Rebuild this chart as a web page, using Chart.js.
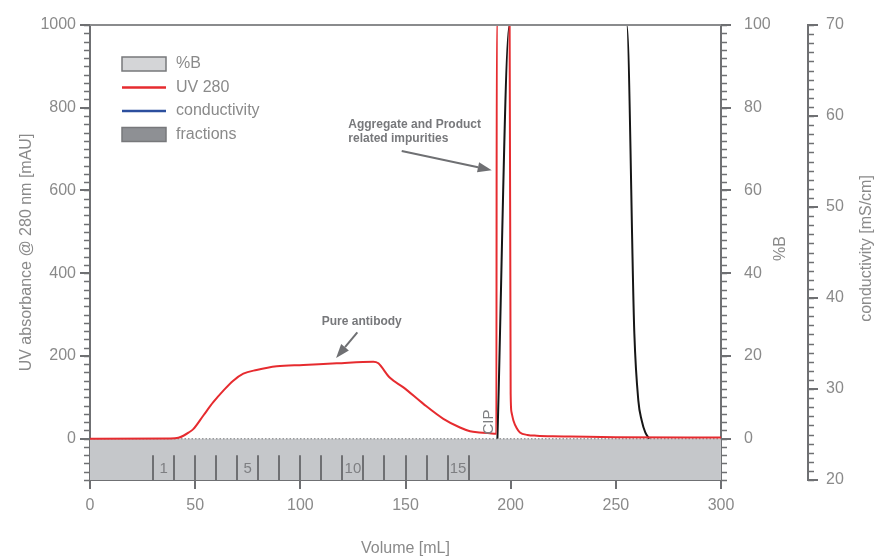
<!DOCTYPE html>
<html>
<head>
<meta charset="utf-8">
<script src="https://cdn.jsdelivr.net/npm/chart.js@4.4.1/dist/chart.umd.min.js"></script>
<style>
  html, body { margin: 0; padding: 0; background: #fff; }
  #wrap { width: 888px; height: 560px; }
</style>
</head>
<body>
<div id="wrap"><canvas id="myChart" width="888" height="560"></canvas></div>
<script>
// ---- data ----
var uvVolume = [0, 38, 42, 44.4, 47, 49.1, 53.9, 58.6, 63.4, 68.1, 72.9, 79.2, 88.8, 101.4, 117.3, 134.7, 136, 137.1,
  142.6, 149, 158.5, 168, 175.9, 180.7, 185, 190, 193.2, 193.4, 199.5, 200.0, 200.4, 201.3, 202.9, 204.4, 208, 212.4,
  220, 228.2, 250, 300];
var uvValue = [0, 0.5, 2, 7, 15, 23, 56, 88, 116, 140, 157, 166, 175, 178, 182, 186, 185, 182,
  147, 124, 84, 48, 27, 18, 15, 13, 12, 1000, 1000, 108, 64, 44, 25, 15, 9, 7,
  5.5, 5, 3.5, 2.5];

var pctVolume = [193.7, 199.4, 255.2, 258.8, 260.7, 262.3, 264, 265.9];
var pctValue = [0, 100, 100, 25.4, 9.2, 4.4, 1.5, 0];

var fractionEdges = [30, 40, 50, 60, 70, 80, 90, 100, 110, 120, 130, 140, 150, 160, 170, 180];
var fractionLabels = { 1: '1', 5: '5', 10: '10', 15: '15' };

var volTicks = [0, 50, 100, 150, 200, 250, 300];
var uvTicks = [0, 200, 400, 600, 800, 1000];
var pctTicks = [0, 20, 40, 60, 80, 100];
var condTicks = [20, 30, 40, 50, 60, 70];

var red = '#e62b2f';
var blue = '#2c4f9e';
var axisColor = '#6f7073';
var textColor = '#8a8a8a';

Chart.defaults.font.family = "'Liberation Sans', Arial, sans-serif";
Chart.defaults.font.size = 16;
Chart.defaults.color = textColor;

function pts(xs, ys) {
  return xs.map(function(x, i) { return { x: x, y: ys[i] }; });
}
function fixTicks(list) {
  return function(scale) { scale.ticks = list.map(function(v) { return { value: v }; }); };
}
function plain(v) { return String(v); }

// short ticks between the labelled ones
var minorTicks = {
  id: 'minorTicks',
  afterDraw: function(chart) {
    var ctx = chart.ctx;
    ctx.save();
    ctx.strokeStyle = axisColor;
    ctx.lineWidth = 1.5;
    [['y', 20, -1], ['y1', 2, 1], ['y2', 1, 1]].forEach(function(a) {
      var s = chart.scales[a[0]];
      var x0 = a[2] < 0 ? s.right : s.left;
      var n = Math.round((s.max - s.min) / a[1]);
      for (var i = 0; i <= n; i++) {
        var py = Math.round(s.getPixelForValue(s.min + i * a[1])) + 0.5;
        ctx.beginPath();
        ctx.moveTo(x0, py);
        ctx.lineTo(x0 + a[2] * 6, py);
        ctx.stroke();
      }
    });
    ctx.restore();
  }
};

// fractions, labels, arrows, legend, right titles
var extras = {
  id: 'extras',
  afterDatasetsDraw: function(chart) {
    var ctx = chart.ctx, x = chart.scales.x, y = chart.scales.y, ca = chart.chartArea;
    ctx.save();

    // top frame line
    ctx.strokeStyle = '#8a8b8d';
    ctx.lineWidth = 2;
    ctx.beginPath();
    ctx.moveTo(ca.left, ca.top);
    ctx.lineTo(ca.right, ca.top);
    ctx.stroke();

    // fraction marks
    ctx.strokeStyle = axisColor;
    ctx.lineWidth = 2;
    fractionEdges.forEach(function(v) {
      var px = Math.round(x.getPixelForValue(v));
      ctx.beginPath();
      ctx.moveTo(px, y.getPixelForValue(-40));
      ctx.lineTo(px, y.getPixelForValue(-100));
      ctx.stroke();
    });
    ctx.fillStyle = '#7e7f82';
    ctx.font = "15px 'Liberation Sans', Arial, sans-serif";
    ctx.textAlign = 'center';
    ctx.textBaseline = 'middle';
    for (var k in fractionLabels) {
      var i = +k - 1;
      var cx = (x.getPixelForValue(fractionEdges[i]) + x.getPixelForValue(fractionEdges[i + 1])) / 2;
      ctx.fillText(fractionLabels[k], cx, y.getPixelForValue(-72));
    }

    // CIP
    ctx.save();
    ctx.translate(x.getPixelForValue(189.8), y.getPixelForValue(40));
    ctx.rotate(-Math.PI / 2);
    ctx.fillStyle = '#7e7f82';
    ctx.font = "15px 'Liberation Sans', Arial, sans-serif";
    ctx.fillText('CIP', 0, 0);
    ctx.restore();

    // annotations
    ctx.fillStyle = '#77787b';
    ctx.font = "bold 12px 'Liberation Sans', Arial, sans-serif";
    ctx.textAlign = 'left';
    ctx.fillText('Aggregate and Product', x.getPixelForValue(122.8), y.getPixelForValue(758));
    ctx.fillText('related impurities', x.getPixelForValue(122.8), y.getPixelForValue(724));
    ctx.fillText('Pure antibody', x.getPixelForValue(110.2), y.getPixelForValue(283));

    function arrow(x1, y1, x2, y2) {
      var ax = x.getPixelForValue(x1), ay = y.getPixelForValue(y1);
      var bx = x.getPixelForValue(x2), by = y.getPixelForValue(y2);
      var ang = Math.atan2(by - ay, bx - ax), L = 14, W = 5;
      var hx = bx - L * Math.cos(ang), hy = by - L * Math.sin(ang);
      ctx.strokeStyle = '#6f7073';
      ctx.fillStyle = '#6f7073';
      ctx.lineWidth = 2;
      ctx.beginPath(); ctx.moveTo(ax, ay); ctx.lineTo(hx, hy); ctx.stroke();
      ctx.beginPath();
      ctx.moveTo(bx, by);
      ctx.lineTo(hx + W * Math.sin(ang), hy - W * Math.cos(ang));
      ctx.lineTo(hx - W * Math.sin(ang), hy + W * Math.cos(ang));
      ctx.closePath(); ctx.fill();
    }
    arrow(148.2, 695.6, 191.0, 649);
    arrow(127.1, 257, 117.0, 195);

    // legend
    var items = [
      { text: '%B', box: '#d4d5d7' },
      { text: 'UV 280', line: red },
      { text: 'conductivity', line: blue },
      { text: 'fractions', box: '#8e9094' }
    ];
    ctx.font = "16px 'Liberation Sans', Arial, sans-serif";
    ctx.textBaseline = 'middle';
    items.forEach(function(it, i) {
      var lx = ca.left + 32, ly = ca.top + 39 + i * 23.5;
      if (it.box) {
        ctx.fillStyle = it.box;
        ctx.fillRect(lx, ly - 7, 44, 14);
        ctx.strokeStyle = '#77787b';
        ctx.lineWidth = 1.5;
        ctx.strokeRect(lx, ly - 7, 44, 14);
      } else {
        ctx.strokeStyle = it.line;
        ctx.lineWidth = 2.5;
        ctx.beginPath(); ctx.moveTo(lx, ly); ctx.lineTo(lx + 44, ly); ctx.stroke();
      }
      ctx.fillStyle = textColor;
      ctx.fillText(it.text, lx + 54, ly);
    });

    // right axis titles, reading upwards
    var cy = (ca.top + ca.bottom) / 2 - 4;
    [['y1', '%B', 60], ['y2', 'conductivity [mS/cm]', 59]].forEach(function(a) {
      var s = chart.scales[a[0]];
      ctx.save();
      ctx.translate(s.left + a[2], cy);
      ctx.rotate(-Math.PI / 2);
      ctx.textAlign = 'center';
      ctx.fillStyle = textColor;
      ctx.fillText(a[1], 0, 0);
      ctx.restore();
    });

    ctx.restore();
  }
};

var ctx = document.getElementById('myChart');

var myChart = new Chart(ctx, {
  type: 'scatter',
  data: {
    datasets: [{
      label: 'UV 280',
      data: pts(uvVolume, uvValue),
      showLine: true,
      borderColor: red,
      borderWidth: 2,
      pointRadius: 0,
      cubicInterpolationMode: 'monotone',
      yAxisID: 'y',
      order: 1
    }, {
      label: '%B',
      data: pts(pctVolume, pctValue),
      showLine: true,
      borderColor: '#161616',
      borderWidth: 2,
      pointRadius: 0,
      cubicInterpolationMode: 'monotone',
      yAxisID: 'y1',
      order: 2
    }, {
      label: 'conductivity',
      data: [],
      showLine: true,
      borderColor: blue,
      yAxisID: 'y2',
      order: 3
    }, {
      label: 'baseline',
      data: pts([0, 300], [0, 0]),
      showLine: true,
      borderColor: '#9a9b9d',
      borderWidth: 1.5,
      borderDash: [1.5, 2],
      pointRadius: 0,
      yAxisID: 'y',
      order: 9
    }, {
      label: 'fractions',
      data: pts([0, 300], [-100, -100]),
      showLine: true,
      borderWidth: 0,
      pointRadius: 0,
      fill: 'origin',
      backgroundColor: '#c5c7ca',
      yAxisID: 'y',
      order: 10
    }]
  },
  options: {
    responsive: false,
    animation: false,
    layout: { padding: { top: 25, left: 0, right: 0, bottom: 0 } },
    plugins: { legend: { display: false }, tooltip: { enabled: false } },
    scales: {
      x: {
        type: 'linear', min: 0, max: 300,
        afterBuildTicks: fixTicks(volTicks),
        afterFit: function(s) { s.height = 80; },
        border: { color: axisColor, width: 2 },
        grid: { drawOnChartArea: false, tickLength: 9, color: axisColor, lineWidth: 2 },
        ticks: { padding: 7, maxRotation: 0, callback: plain },
        title: { display: true, text: 'Volume [mL]', padding: { top: 0, bottom: 2 } }
      },
      y: {
        type: 'linear', position: 'left', min: -100, max: 1000,
        afterBuildTicks: fixTicks(uvTicks),
        afterFit: function(s) { s.width = 90; },
        border: { color: axisColor, width: 2 },
        grid: { drawOnChartArea: false, tickLength: 10, color: axisColor, lineWidth: 2 },
        ticks: { padding: 4, callback: plain },
        title: { display: true, text: 'UV absorbance @ 280 nm [mAU]', padding: { top: 17, bottom: 0 } }
      },
      y1: {
        type: 'linear', position: 'right', min: -10, max: 100,
        afterBuildTicks: fixTicks(pctTicks),
        afterFit: function(s) { s.width = 87; },
        border: { color: axisColor, width: 2 },
        grid: { drawOnChartArea: false, tickLength: 10, color: axisColor, lineWidth: 2 },
        ticks: { padding: 13, callback: plain }
      },
      y2: {
        type: 'linear', position: 'right', min: 20, max: 70, display: true,
        afterBuildTicks: fixTicks(condTicks),
        afterFit: function(s) { s.width = 80; },
        border: { color: axisColor, width: 2 },
        grid: { drawOnChartArea: false, tickLength: 10, color: axisColor, lineWidth: 2 },
        ticks: { padding: 8, callback: plain }
      }
    }
  },
  plugins: [minorTicks, extras]
});
</script>
</body>
</html>
